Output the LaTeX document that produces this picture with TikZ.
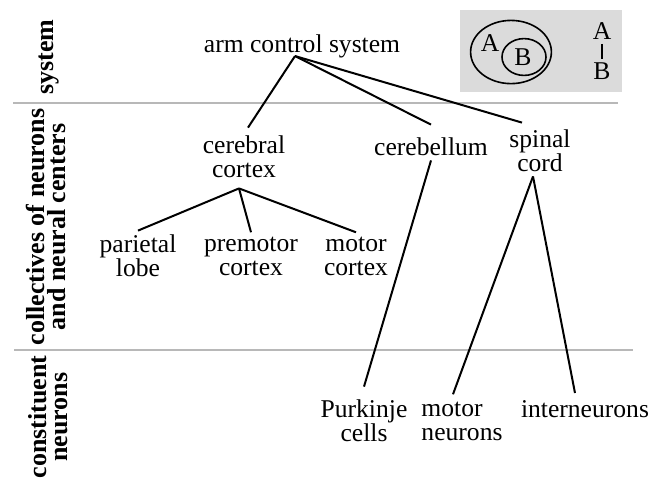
\documentclass[tikz,border=0pt]{standalone}
\usepackage{fontspec}
\setmainfont{Liberation Serif}
\usepackage{tikz}

\begin{document}
\begin{tikzpicture}[x=0.5pt, y=-0.5pt,
            tree_text/.style={inner sep=2pt, align=center, font=\fontsize{12.8}{12}\selectfont},
            level_label/.style={rotate=90, inner sep=0pt, align=center,
            font=\fontsize{13}{10.5}\selectfont\bfseries},
            key_text/.style={inner sep=0pt, font=\fontsize{12.8}{12}\selectfont},
            branch/.style={line width=1pt, black},
            level_sep/.style={line width=0.7pt, black!28}
        ]
            \useasboundingbox (0,0) rectangle (659,479);

            % Level separators
            \draw[level_sep] (13,103) -- (618,103);
            \draw[level_sep] (14,350) -- (633,350);

            % Level labels (left column)
            \node[level_label] (lv_sys)  at (49,57)  {system};
            \node[level_label] (lv_coll) at (46,227) {collectives of neurons\\and neural centers};
            \node[level_label] (lv_con)  at (48,417) {constituent\\neurons};

            % Key: A contains B
            \fill[black!14] (460,10) rectangle (622,92);
            \draw[line width=0.8pt] (511,52) ellipse [x radius=20.2pt, y radius=15.8pt];
            \draw[line width=0.8pt] (524,57) ellipse [x radius=11pt, y radius=9.2pt];
            \node[key_text] (key_a) at (490,43) {A};
            \node[key_text] (key_b) at (523,57.5) {B};
            \node[key_text] (key_top) at (602,31.5) {A};
            \node[key_text] (key_bot) at (602,71.5) {B};
            \draw[branch, shorten <=1.7pt, shorten >=1.7pt] (key_top) -- (key_bot);

            % Tree nodes
            \node[tree_text] (arm)        at (302,46)  {arm control system};
            \node[tree_text] (cerebral)   at (244,157) {cerebral\\cortex};
            \node[tree_text] (cerebellum) at (431,147) {cerebellum};
            \node[tree_text] (spinal)     at (540,151) {spinal\\cord};
            \node[tree_text] (parietal)   at (138,256) {parietal\\lobe};
            \node[tree_text] (premotor)   at (251,256) {premotor\\cortex};
            \node[tree_text] (motor_cx)   at (356,256) {motor\\cortex};
            \node[tree_text] (purkinje)   at (364,421) {Purkinje\\cells};
            \node[tree_text, align=left] (motor_nr) at (462,421) {motor\\neurons};
            \node[tree_text] (inter)      at (585,409) {interneurons};

            % Branches
            \coordinate (arm_foot) at ([xshift=-3.5pt,yshift=3pt]arm.south);
            \coordinate (cer_foot) at ([xshift=-2.5pt,yshift=-3pt]cerebral.south);
            \coordinate (sp_foot)  at ([xshift=-3.5pt]spinal.south);
            \draw[branch] (arm_foot) -- ([xshift=2pt,yshift=2pt]cerebral.north);
            \draw[branch] (arm_foot) -- ([yshift=4.5pt]cerebellum.north);
            \draw[branch] (arm_foot) -- ([xshift=-9pt,yshift=1.5pt]spinal.north);
            \foreach \n in {parietal,premotor,motor_cx} {
                \draw[branch] (cer_foot) -- (\n.north);
            }
            \draw[branch] (cerebellum.south) -- ([yshift=4.5pt]purkinje.north);
            \draw[branch] (sp_foot) -- ([xshift=-4.5pt,yshift=1.5pt]motor_nr.north);
            \draw[branch] (sp_foot) -- ([xshift=-5pt,yshift=1.5pt]inter.north);

        \end{tikzpicture}
\end{document}
